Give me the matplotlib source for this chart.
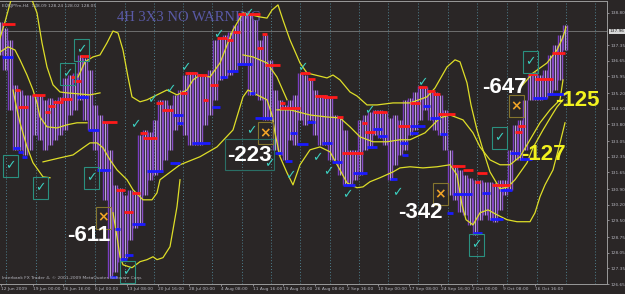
import matplotlib
matplotlib.use('Agg')
import matplotlib.pyplot as plt
from matplotlib.patches import Rectangle

# ---------------- data (x = bar position, y = price) ----------------
bar_x = list(range(0, 570, 5))
bar_high = [138.39, 138.12, 137.58, 135.57, 135.34, 135.12, 135.12, 135.12, 135.12, 134.90,
            134.98, 134.90, 135.03, 135.88, 136.01, 136.10, 136.91, 136.78, 136.24, 134.67,
            134.22, 133.91, 132.66, 131.09, 130.96, 130.65, 130.87, 130.78, 133.33, 133.55,
            133.46, 134.00, 134.90, 134.90, 134.67, 135.12, 135.34, 136.01, 136.15, 136.15,
            136.01, 136.01, 136.24, 137.58, 137.67, 137.80, 137.94, 138.25, 138.74, 138.83,
            138.74, 138.47, 137.58, 137.80, 136.69, 135.34, 134.90, 134.67, 134.90, 135.12,
            136.10, 136.01, 135.79, 135.34, 135.12, 135.12, 134.98, 134.22, 134.09, 133.55,
            132.66, 132.66, 134.00, 134.22, 134.36, 134.45, 134.45, 134.36, 134.09, 134.22,
            134.00, 134.90, 134.98, 135.25, 135.52, 135.48, 135.34, 135.25, 135.12, 134.45,
            132.66, 131.99, 131.76, 131.54, 131.41, 131.32, 131.32, 131.23, 131.23, 131.18,
            131.32, 131.32, 132.66, 133.78, 134.00, 134.90, 136.01, 136.15, 136.01, 136.24,
            136.91, 137.36, 137.80, 138.25]
bar_low = [136.91, 136.24, 134.45, 132.66, 132.66, 132.43, 132.66, 133.33, 133.11, 132.66,
           132.88, 133.11, 133.33, 133.55, 134.22, 134.45, 134.90, 134.00, 133.55, 132.66,
           131.76, 130.42, 126.93, 127.20, 127.65, 127.83, 128.63, 129.17, 129.30, 130.65,
           131.32, 131.54, 131.67, 132.21, 132.66, 133.55, 133.78, 133.33, 132.88, 132.88,
           132.88, 133.78, 134.22, 134.90, 135.79, 135.88, 136.01, 136.24, 136.46, 136.46,
           135.12, 135.12, 134.90, 134.00, 134.00, 132.66, 132.43, 132.21, 133.11, 132.88,
           134.00, 133.78, 134.00, 133.33, 132.88, 132.88, 132.21, 132.21, 131.54, 131.09,
           131.09, 131.32, 131.54, 132.66, 132.75, 133.33, 133.20, 132.88, 131.32, 131.99,
           132.43, 132.66, 133.33, 133.55, 134.00, 134.45, 134.00, 133.55, 133.33, 132.66,
           130.65, 130.42, 129.88, 129.75, 129.30, 128.86, 129.53, 129.75, 129.53, 129.44,
           129.97, 130.65, 130.87, 132.21, 132.21, 132.66, 134.90, 134.90, 134.90, 134.98,
           135.12, 135.34, 135.79, 137.13]

# resistance (red) and support (blue) levels: start, end, price
res_x0 = [2, 15, 18, 32, 45, 48, 53, 60, 71, 73, 80, 102, 116, 124, 132, 140, 143, 156, 162, 180,
          185, 197, 203, 210, 217, 227, 233, 238, 257, 262, 265, 280, 280, 300, 308, 315, 323, 337,
          342, 362, 365, 373, 398, 410, 418, 427, 433, 438, 452, 463, 475, 477, 492, 515, 518, 528,
          535, 552]
res_x1 = [15, 20, 28, 45, 50, 55, 63, 72, 75, 81, 90, 117, 125, 133, 140, 147, 157, 163, 173, 187,
          197, 207, 208, 218, 227, 233, 240, 260, 263, 267, 280, 300, 285, 310, 315, 327, 337, 343,
          363, 367, 375, 387, 410, 420, 427, 435, 440, 455, 465, 473, 480, 487, 510, 522, 525, 537,
          553, 565]
res_p = [138.30, 135.34, 134.58, 135.12, 134.36, 134.63, 134.81, 134.94, 135.92, 135.75, 136.86,
         133.91, 130.87, 129.88, 130.73, 133.42, 133.20, 134.76, 134.45, 135.21, 136.10, 136.01,
         134.90, 135.57, 137.67, 137.58, 137.94, 138.74, 137.22, 137.85, 136.46, 134.54, 134.76,
         136.10, 135.83, 135.07, 135.03, 134.13, 132.52, 133.87, 133.46, 134.36, 133.73, 134.76,
         135.48, 135.30, 135.16, 134.27, 131.94, 131.76, 131.23, 131.63, 131.09, 133.46, 133.73,
         136.06, 135.83, 137.00]

sup_x0 = [2, 13, 18, 22, 77, 88, 97, 110, 115, 120, 125, 132, 147, 170, 173, 177, 192, 212, 220,
          227, 237, 250, 255, 275, 285, 290, 297, 307, 322, 332, 343, 353, 367, 373, 378, 390, 400,
          402, 410, 410, 423, 430, 440, 447, 453, 473, 482, 490, 500, 510, 520, 533, 547]
sup_x1 = [13, 20, 23, 27, 88, 99, 110, 117, 120, 127, 133, 145, 163, 180, 183, 183, 210, 220, 227,
          238, 252, 255, 272, 282, 292, 297, 308, 315, 332, 342, 355, 367, 377, 382, 387, 397, 408,
          408, 418, 425, 430, 440, 447, 453, 472, 482, 490, 503, 512, 520, 532, 547, 565]
sup_p = [136.82, 132.75, 132.57, 132.35, 135.03, 133.55, 131.76, 126.98, 129.12, 127.78, 127.96,
         129.35, 131.72, 132.08, 134.22, 133.87, 132.97, 134.58, 135.92, 136.19, 136.51, 135.21,
         134.09, 132.52, 132.17, 133.42, 132.93, 133.91, 132.97, 132.12, 131.09, 131.63, 132.79,
         133.60, 133.29, 131.36, 132.97, 132.43, 133.42, 133.73, 134.63, 134.09, 133.37, 129.84,
         130.69, 128.95, 130.73, 129.57, 130.87, 132.52, 132.26, 134.98, 135.16]

# yellow channel lines (x, price)
band_a_x = [32, 37, 42, 47, 53, 60, 67, 80, 90, 100]
band_a_p = [139.37, 138.79, 137.45, 136.37, 135.57, 135.25, 135.21, 135.16, 135.12, 135.21]
band_b_x = [0, 8, 15, 20, 27, 33, 37, 40, 47, 57, 67, 77, 87]
band_b_p = [137.04, 137.27, 137.13, 136.69, 136.01, 135.34, 134.76, 134.13, 133.69, 133.64, 133.78,
            133.87, 133.87]
band_c_x = [78, 85, 93, 100, 107, 113, 118, 123, 128, 132, 140, 147, 157, 167, 177, 187, 193, 200,
            210, 220, 233, 243, 260, 267, 272, 278, 283, 290, 300, 307, 327, 333, 340, 350, 357, 367,
            377, 393, 410, 427, 435, 447, 455, 460, 467, 471, 477, 483, 490, 500, 508, 515, 527, 533,
            543, 552, 557, 563]
band_c_p = [135.92, 136.60, 136.82, 136.91, 137.45, 137.98, 137.89, 137.13, 135.92, 135.03, 134.81,
            134.90, 135.12, 135.34, 135.12, 135.34, 135.79, 136.01, 135.92, 136.55, 138.03, 138.79,
            138.61, 138.56, 138.92, 139.15, 138.47, 137.58, 136.55, 136.10, 135.88, 136.01, 135.79,
            135.25, 135.07, 134.67, 134.67, 134.76, 134.76, 135.03, 135.43, 136.37, 136.69, 136.60,
            135.66, 134.67, 133.55, 132.66, 131.67, 130.91, 131.00, 131.32, 132.08, 132.75, 133.55,
            134.22, 134.58, 134.90]
band_d_x = [43, 60, 73, 83, 90, 97, 103, 110, 117, 127, 133, 143, 152, 157, 160, 180, 200, 217, 233,
            243, 248, 253, 267, 272, 275, 280, 287, 293, 300, 310, 320, 330, 340, 347, 357, 363, 370,
            380, 393, 400, 410, 423, 437, 450, 457, 462, 466, 473, 480, 488, 497, 507, 517, 530, 535,
            540, 545, 553, 560, 565]
band_d_p = [132.12, 132.30, 132.43, 132.75, 132.97, 132.97, 132.75, 132.21, 131.76, 131.32, 130.87,
            130.42, 130.42, 130.73, 131.32, 131.99, 132.35, 132.79, 133.55, 135.03, 135.34, 135.21,
            134.90, 134.22, 133.42, 132.35, 131.63, 131.09, 131.99, 132.66, 132.79, 132.57, 131.76,
            131.18, 130.96, 131.00, 131.23, 131.41, 131.67, 131.85, 131.90, 131.85, 131.90, 131.99,
            131.54, 130.20, 129.53, 129.30, 129.84, 129.97, 129.75, 129.53, 129.44, 129.44, 129.84,
            130.56, 131.09, 131.76, 132.97, 133.87]
band_e1_x = [13, 17, 20, 27, 33, 43, 50]
band_e1_p = [135.34, 134.45, 133.87, 132.79, 132.08, 131.45, 131.41]
band_e2_x = [113, 117, 120, 123, 132, 140, 147, 153, 157, 163, 170, 173, 177, 180]
band_e2_p = [129.84, 128.77, 127.87, 127.51, 127.38, 127.65, 127.74, 127.87, 127.74, 127.83, 128.32,
             129.08, 130.11, 131.32]
band_f_x = [277, 290, 310, 327, 340, 350, 360, 373, 387, 400, 410, 425, 440, 450, 463, 473, 480, 490,
            500, 510, 520, 530, 540, 550, 560, 563]
band_f_p = [134.45, 134.45, 134.22, 134.13, 134.09, 133.69, 133.24, 133.02, 133.02, 133.11, 133.11,
            133.42, 134.09, 134.22, 134.00, 133.42, 132.79, 132.21, 131.99, 131.99, 132.35, 133.11,
            133.87, 134.45, 134.90, 135.79]
band_g_x = [520, 533, 547, 557, 563, 566]
band_g_p = [135.43, 136.10, 136.55, 137.13, 137.71, 138.16]
band_h_x = [243, 253, 267, 277, 287]
band_h_p = [136.91, 136.82, 136.55, 135.92, 134.90]
band_i_x = [0, 5, 11]
band_i_p = [137.67, 138.39, 139.37]

# signal marks
boxed_check_x = [10, 40, 67, 81, 91, 127, 499, 530, 476]
boxed_check_p = [131.94, 130.96, 136.06, 137.13, 131.41, 127.20, 133.20, 136.60, 128.41]
check_x = [135, 152, 170, 185, 218, 248, 302, 251, 269, 290, 317, 328, 369, 347, 397, 422]
check_p = [133.78, 134.90, 135.34, 136.33, 137.80, 138.74, 136.33, 133.51, 132.03, 131.50, 132.30,
           131.67, 134.40, 130.65, 130.73, 135.66]
cross_x = [103, 265, 440, 516]
cross_p = [129.62, 133.42, 130.69, 134.63]

# pip labels
pip_text = ['-611', '-223', '-342', '-647', '-125', '-127']
pip_x = [67, 227, 398, 482, 555, 521]
pip_p = [128.81, 132.39, 129.84, 135.43, 134.85, 132.43]
pip_color = ['white', 'white', 'white', 'white', '#f2f21e', '#f2f21e']

# axes labels
price_ticks = [138.80, 137.35, 136.65, 135.95, 135.20, 134.50, 133.80, 133.05, 132.35, 131.65,
               130.90, 130.20, 129.50, 128.75, 128.05, 127.35, 126.65]
last_price = 137.96
date_pos = [1, 33, 63, 95, 127, 158, 189, 221, 253, 283, 315, 347, 378, 409, 441, 472, 503, 535]
date_labels = ['12 Jun 2009', '19 Jun 00:00', '26 Jun 16:00', '6 Jul 00:00', '13 Jul 08:00',
               '20 Jul 16:00', '28 Jul 00:00', '4 Aug 08:00', '11 Aug 16:00', '19 Aug 00:00',
               '26 Aug 08:00', '2 Sep 16:00', '10 Sep 00:00', '17 Sep 08:00', '24 Sep 16:00',
               '2 Oct 00:00', '9 Oct 08:00', '16 Oct 16:00']
week_sep = [6, 36, 65, 95, 125, 154, 183, 212, 242, 271, 300, 330, 359, 388, 418, 448, 477, 507,
            537, 566, 595]

# ---------------- drawing ----------------
BG = '#2a2626'
fig = plt.figure(figsize=(6.25, 2.94), dpi=100)
fig.patch.set_facecolor(BG)
ax = fig.add_axes([0, 10 / 294, 607 / 625, 283 / 294])
ax.set_facecolor(BG)
ax.set_xlim(0, 607)
ax.set_ylim(126.664, 139.325)

ax.spines['left'].set_visible(False)
for s in ['right', 'bottom', 'top']:
    ax.spines[s].set_color('#9a9a9a')
    ax.spines[s].set_linewidth(0.7)

ax.yaxis.tick_right()
ax.set_yticks(price_ticks)
ax.set_yticklabels([f'{v:.2f}' for v in price_ticks])
ax.tick_params(axis='y', labelsize=3.1, colors='#b4b4bc', length=1.2, width=0.5, pad=1.0)
ax.set_xticks(date_pos)
ax.set_xticklabels(date_labels, ha='left')
ax.tick_params(axis='x', labelsize=3.2, colors='#b4b4bc', length=1.5, width=0.5, pad=1.0)

# weekly separators
for gx in week_sep:
    ax.axvline(gx, color='#4e7f8e', lw=0.7, ls=(0, (1, 2)), zorder=1)

# last price line
ax.axhline(last_price, color='#7a7a7a', lw=0.6, zorder=1)

# title (drawn beneath the bars)
ax.text(117, 138.60, '4H 3X3 NO WARNING', family='Liberation Serif', fontsize=10.5,
        color='#5a5aa6', ha='left', va='center', zorder=1.5)

# price bars: thin streaks
ax.vlines([x - 1.7 for x in bar_x], bar_low, bar_high, color='#7a3cc0', lw=1.0, zorder=2)
ax.vlines(bar_x, bar_low, bar_high, color='#b8a6d4', lw=0.8, zorder=2)
ax.vlines([x + 1.6 for x in bar_x], bar_low, bar_high, color='#8a4fc8', lw=1.0, zorder=2)

# yellow channel lines
for bx, bp in [(band_a_x, band_a_p), (band_b_x, band_b_p), (band_c_x, band_c_p),
               (band_d_x, band_d_p), (band_e1_x, band_e1_p), (band_e2_x, band_e2_p),
               (band_f_x, band_f_p), (band_g_x, band_g_p), (band_h_x, band_h_p),
               (band_i_x, band_i_p)]:
    ax.plot(bx, bp, color='#dede28', lw=0.9, zorder=3)

# levels
ax.hlines(res_p, res_x0, res_x1, color='#ff1a1a', lw=2.0, zorder=4)
ax.hlines(sup_p, sup_x0, sup_x1, color='#1a1aff', lw=2.0, zorder=4)

# marks
BOX_W = 15
BOX_H = 0.98
for x, p in zip(boxed_check_x, boxed_check_p):
    ax.add_patch(Rectangle((x - BOX_W / 2, p - BOX_H / 2), BOX_W, BOX_H, fill=False,
                           ec='#2a9080', lw=0.8, zorder=5))
    ax.text(x, p, '\u2713', color='#3ccfbf', fontsize=9, ha='center', va='center', zorder=6)
for x, p in zip(check_x, check_p):
    ax.text(x, p, '\u2713', color='#3ccfbf', fontsize=9, ha='center', va='center', zorder=6)
for x, p in zip(cross_x, cross_p):
    ax.add_patch(Rectangle((x - BOX_W / 2, p - BOX_H / 2), BOX_W, BOX_H, fill=False,
                           ec='#85752e', lw=0.8, zorder=5))
    ax.text(x, p, '\u00d7', color='#f2a428', fontsize=10, ha='center', va='center',
            fontweight='bold', zorder=6)

# box around -223 label
ax.add_patch(Rectangle((225, 131.76), 49, 1.39, fill=False, ec='#2a6f66', lw=0.8, zorder=5))

for t, x, p, c in zip(pip_text, pip_x, pip_p, pip_color):
    ax.text(x, p, t, color=c, fontsize=16, fontweight='bold', family='Liberation Sans',
            ha='left', va='center', zorder=7)

# last price tag on the axis
ax.annotate(f'{last_price:.2f}', xy=(1.0, last_price), xycoords=('axes fraction', 'data'),
            xytext=(2.0, 0), textcoords='offset points', ha='left', va='center',
            fontsize=3.1, color='#202020',
            bbox=dict(boxstyle='square,pad=0.15', fc='#d8d8d8', ec='none'),
            annotation_clip=False)

# captions
ax.text(2, 139.12, 'EURJPYm,H4  128.09 128.24 128.02 128.05', fontsize=3.2, color='#b4b4bc',
        ha='left', va='center', zorder=8)
ax.text(2, 126.90, 'Interbank FX Trader 4, \u00a9 2001-2009 MetaQuotes Software Corp.',
        fontsize=3.2, color='#b4b4bc', ha='left', va='center', zorder=8)

fig.savefig('out.png', dpi=100, facecolor=BG)
